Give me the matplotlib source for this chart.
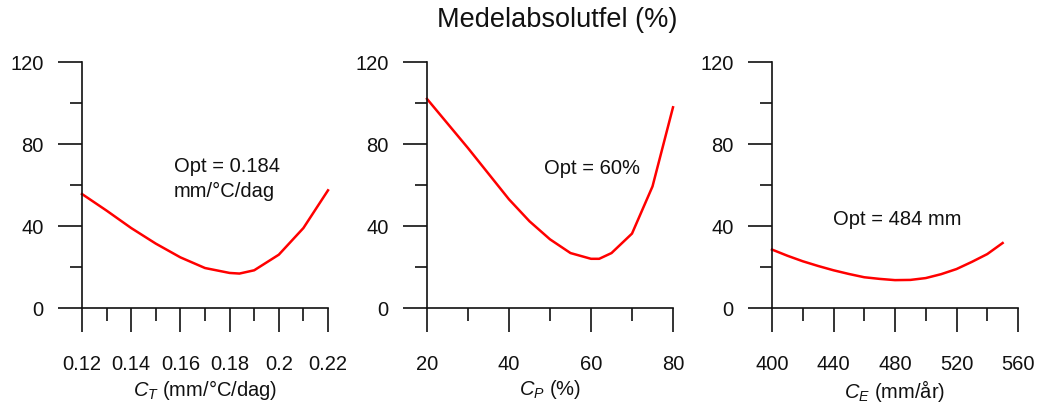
import matplotlib
matplotlib.use("Agg")
import matplotlib.pyplot as plt
from matplotlib.ticker import MultipleLocator, FuncFormatter

plt.rcParams['font.family'] = ['Liberation Sans', 'DejaVu Sans']
plt.rcParams['mathtext.fontset'] = 'custom'
plt.rcParams['mathtext.rm'] = 'Liberation Sans'
plt.rcParams['mathtext.it'] = 'Liberation Sans:italic'

# medelabsolutfel (%) som funktion av parametervärdet
ct = [0.12, 0.13, 0.14, 0.15, 0.16, 0.17, 0.18, 0.184, 0.19, 0.20, 0.21, 0.22]
ct_mae = [55.6, 47.5, 39.0, 31.4, 24.7, 19.5, 17.1, 16.8, 18.4, 26.0, 39.0, 57.4]

cp = [20, 25, 30, 35, 40, 45, 50, 55, 60, 62, 65, 70, 75, 80]
cp_mae = [102.0, 90.0, 78.0, 65.5, 53.0, 42.3, 33.5, 26.8, 24.0, 24.0, 26.8, 36.3, 59.3, 97.9]

ce = [400, 410, 420, 430, 440, 450, 460, 470, 480, 490, 500, 510, 520, 530, 540, 550]
ce_mae = [28.5, 25.5, 22.8, 20.5, 18.4, 16.6, 15.0, 14.2, 13.6, 13.7, 14.6, 16.5, 19.0, 22.5, 26.3, 31.7]

FS = 14.5
INK = '#111111'


def style_axis(ax, xlim, xmajor, xminor, xlabel):
    ax.set_xlim(*xlim)
    ax.set_ylim(0, 120)
    for side in ['top', 'right']:
        ax.spines[side].set_visible(False)
    for side in ['left', 'bottom']:
        ax.spines[side].set_linewidth(1.2)
        ax.spines[side].set_color(INK)
    ax.xaxis.set_major_locator(MultipleLocator(xmajor))
    ax.xaxis.set_minor_locator(MultipleLocator(xminor))
    ax.yaxis.set_major_locator(MultipleLocator(40))
    ax.yaxis.set_minor_locator(MultipleLocator(20))
    ax.xaxis.set_major_formatter(FuncFormatter(lambda v, p: f"{round(v, 4):g}"))
    ax.tick_params(which='major', direction='out', length=17.5, width=1.2, color=INK,
                   labelsize=FS, labelcolor=INK)
    ax.tick_params(which='minor', direction='out', length=9, width=1.2, color=INK)
    ax.tick_params(axis='x', which='major', pad=16)
    ax.tick_params(axis='y', which='major', pad=10)
    ax.set_xlabel(xlabel, fontsize=FS, color=INK, labelpad=3)
    ax.patch.set_visible(False)


fig = plt.figure(figsize=(10.4, 4.05), dpi=100)
w = 246 / 1040
h = 246 / 405
b = 97 / 405
ax1 = fig.add_axes([82 / 1040, b, w, h])
ax2 = fig.add_axes([427 / 1040, b, w, h])
ax3 = fig.add_axes([772 / 1040, b, w, h])

ax1.plot(ct, ct_mae, color='#ff0000', lw=1.8, clip_on=False)
style_axis(ax1, (0.12, 0.22), 0.02, 0.01, r'$C_T$ (mm/°C/dag)')
ax1.text(0.1574, 63, 'Opt = 0.184\nmm/°C/dag', fontsize=FS, color=INK,
         ha='left', va='center', linespacing=1.35)

ax2.plot(cp, cp_mae, color='#ff0000', lw=1.8, clip_on=False)
style_axis(ax2, (20, 80), 20, 10, r'$C_P$ (%)')
ax2.text(48.5, 68, 'Opt = 60%', fontsize=FS, color=INK, ha='left', va='center')

ax3.plot(ce, ce_mae, color='#ff0000', lw=1.8, clip_on=False)
style_axis(ax3, (400, 560), 40, 20, r'$C_E$ (mm/år)')
ax3.text(439.7, 43.4, 'Opt = 484 mm', fontsize=FS, color=INK, ha='left', va='center')

fig.text(557 / 1040, 1 - 20 / 405, 'Medelabsolutfel (%)', fontsize=19.5, color=INK,
         ha='center', va='center')

fig.savefig('out.png', dpi=100)
